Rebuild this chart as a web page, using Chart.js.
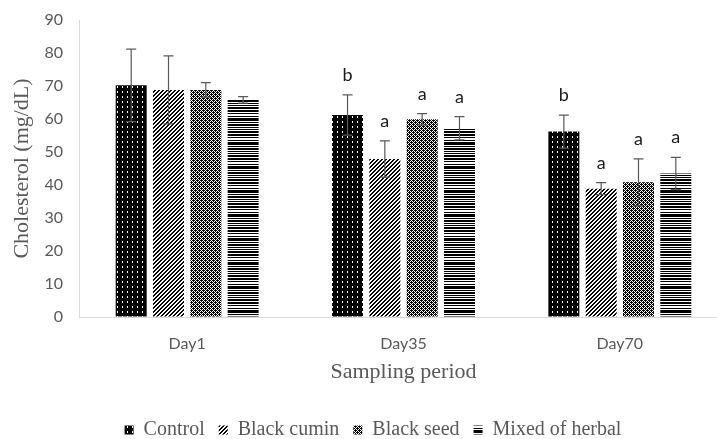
<!DOCTYPE html>
<html>
<head>
<meta charset="utf-8">
<script src="https://cdn.jsdelivr.net/npm/chart.js@4.4.0/dist/chart.umd.min.js"></script>
<style>
    html, body { margin: 0; padding: 0; background: #fff; overflow: hidden; }
    /* the original figure is cropped on the right and bottom */
    #wrap { width: 740px; height: 450px; }
</style>
</head>
<body>
<div id="wrap"><canvas id="myChart"></canvas></div>
<script>
/* DATA */
const days = ['Day1', 'Day35', 'Day70'];
const seriesNames = ['Control', 'Black cumin', 'Black seed', 'Mixed of herbal'];

const control = [70.2, 61.2, 56.2];
const blackCumin = [68.8, 47.9, 38.9];
const blackSeed = [68.8, 59.9, 40.8];
const mixedHerbal = [65.8, 57.2, 43.5];

const controlErr = [11.0, 6.1, 5.0];
const blackCuminErr = [10.3, 5.5, 1.8];
const blackSeedErr = [2.2, 1.7, 7.1];
const mixedHerbalErr = [1.0, 3.5, 4.9];

const controlLetters = ['', 'b', 'b'];
const blackCuminLetters = ['', 'a', 'a'];
const blackSeedLetters = ['', 'a', 'a'];
const mixedHerbalLetters = ['', 'a', 'a'];

const yMin = 0;
const yMax = 90;
const yStep = 10;

/* PATTERNS */
function makePattern(w, h, isBlack) {
    const c = document.createElement('canvas');
    c.width = w;
    c.height = h;
    const g = c.getContext('2d');
    g.fillStyle = '#fff';
    g.fillRect(0, 0, w, h);
    g.fillStyle = '#000';
    for (let y = 0; y < h; y++) {
        for (let x = 0; x < w; x++) {
            if (isBlack(x, y)) g.fillRect(x, y, 1, 1);
        }
    }
    return document.createElement('canvas').getContext('2d').createPattern(c, 'repeat');
}

// black with white dots
const dotsPattern = makePattern(5, 5, function(x, y) {
    return !(x === 2 && (y === 1 || y === 2));
});
// diagonal stripes "/"
const diagPattern = makePattern(4, 4, function(x, y) {
    return (x + y) % 4 < 2;
});
// dense check
const hatchPattern = makePattern(4, 4, function(x, y) {
    return (x + y) % 2 === 0 || (x === 1 && y === 0) || (x === 3 && y === 2);
});
// horizontal stripes, uneven
const stripeRows = [1, 0, 1, 0, 1, 1, 0, 1, 0, 1, 0, 1, 1, 0, 1, 1, 0, 1, 0, 0, 1, 0, 1, 1];
const stripePattern = makePattern(1, stripeRows.length, function(x, y) {
    return stripeRows[y] === 1;
});

/* PLUGIN : error bars + letters */
const errorBarsPlugin = {
    id: 'errorBars',
    afterDatasetsDraw(chart) {
        const ctx = chart.ctx;
        const yScale = chart.scales.y;
        ctx.save();
        chart.data.datasets.forEach(function(ds, di) {
            const meta = chart.getDatasetMeta(di);
            meta.data.forEach(function(bar, i) {
                const v = ds.data[i];
                const e = ds.errors[i];
                const yTop = yScale.getPixelForValue(v + e);
                const yBot = yScale.getPixelForValue(v - e);
                const x = bar.x;
                ctx.strokeStyle = '#595959';
                ctx.lineWidth = 1.2;
                ctx.beginPath();
                ctx.moveTo(x, yTop);
                ctx.lineTo(x, yBot);
                ctx.moveTo(x - 5, yTop);
                ctx.lineTo(x + 5, yTop);
                ctx.moveTo(x - 5, yBot);
                ctx.lineTo(x + 5, yBot);
                ctx.stroke();
                if (ds.letters[i]) {
                    ctx.fillStyle = '#1a1a1a';
                    ctx.font = '18px Lato, "Liberation Sans", sans-serif';
                    ctx.textAlign = 'center';
                    ctx.textBaseline = 'alphabetic';
                    ctx.fillText(ds.letters[i], x, yTop - 14);
                }
            });
        });
        ctx.restore();
    }
};

const ctx = document.getElementById('myChart').getContext('2d');
const myChart = new Chart(ctx, {
    type: 'bar',
    data: {
        labels: days,
        datasets: [{
            label: seriesNames[0],
            data: control,
            errors: controlErr,
            letters: controlLetters,
            backgroundColor: dotsPattern
        }, {
            label: seriesNames[1],
            data: blackCumin,
            errors: blackCuminErr,
            letters: blackCuminLetters,
            backgroundColor: diagPattern
        }, {
            label: seriesNames[2],
            data: blackSeed,
            errors: blackSeedErr,
            letters: blackSeedLetters,
            backgroundColor: hatchPattern
        }, {
            label: seriesNames[3],
            data: mixedHerbal,
            errors: mixedHerbalErr,
            letters: mixedHerbalLetters,
            backgroundColor: stripePattern
        }]
    },
    plugins: [errorBarsPlugin],
    options: {
        responsive: true,
        maintainAspectRatio: false,
        animation: false,
        categoryPercentage: 0.69,
        barPercentage: 0.83,
        layout: {
            padding: { top: 20, right: 12, bottom: 0, left: 18 }
        },
        plugins: {
            tooltip: { enabled: false },
            legend: {
                position: 'bottom',
                labels: {
                    color: '#595959',
                    boxWidth: 9,
                    boxHeight: 9,
                    padding: 14,
                    font: { family: '"Liberation Serif", serif', size: 20 }
                }
            }
        },
        scales: {
            x: {
                afterFit: function(scale) { scale.height = 89; },
                grid: { display: false, drawTicks: false },
                border: { display: true, color: '#d9d9d9', width: 1 },
                ticks: {
                    color: '#595959',
                    padding: 17,
                    font: { family: 'Lato, "Liberation Sans", sans-serif', size: 16 }
                },
                title: {
                    display: true,
                    text: 'Sampling period',
                    color: '#595959',
                    padding: { top: 0, bottom: 21 },
                    font: { family: '"Liberation Serif", serif', size: 22 }
                }
            },
            y: {
                min: yMin,
                max: yMax,
                afterFit: function(scale) { scale.width = 61; },
                grid: {
                    display: true,
                    drawOnChartArea: false,
                    drawTicks: true,
                    tickLength: 11,
                    color: 'rgba(0,0,0,0)'
                },
                border: { display: true, color: '#d9d9d9', width: 1 },
                ticks: {
                    stepSize: yStep,
                    color: '#595959',
                    padding: 5,
                    font: { family: 'Lato, "Liberation Sans", sans-serif', size: 16 }
                },
                title: {
                    display: true,
                    text: 'Cholesterol (mg/dL)',
                    color: '#595959',
                    padding: { top: -9, bottom: 0 },
                    font: { family: '"Liberation Serif", serif', size: 22 }
                }
            }
        }
    }
});
</script>
</body>
</html>
